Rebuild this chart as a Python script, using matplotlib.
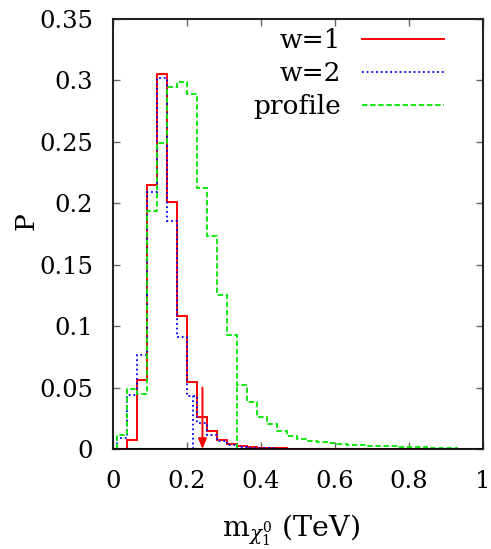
import numpy as np
import matplotlib
matplotlib.use("Agg")
import matplotlib.pyplot as plt

# ---------------- data ----------------
bin_edges = [0.0127, 0.0397, 0.0667, 0.0937, 0.1207, 0.1477, 0.1747, 0.2017,
             0.2287, 0.2557, 0.2827, 0.3097, 0.3367, 0.3637, 0.3907, 0.4177,
             0.4447, 0.4717, 0.4987, 0.5257, 0.5527, 0.5797, 0.6067, 0.6337,
             0.6607, 0.6877, 0.7147, 0.7417, 0.7687, 0.7957, 0.8227, 0.8497,
             0.8767, 0.9037, 0.9307, 0.9577, 0.9847]

p_w1 = [0.0, 0.0073, 0.056, 0.2148, 0.305, 0.2013, 0.1082, 0.0546,
        0.0262, 0.0145, 0.0070, 0.0040, 0.0025, 0.0016, 0.0010, 0.0007,
        0.0005, 0.0004, 0.0003, 0.0003, 0.0002, 0.0002, 0.0002, 0.0001,
        0.0001, 0.0001, 0.0001, 0.0001, 0.0001, 0.0001, 0.0001, 0.0001,
        0.0001, 0.0001, 0.0001, 0.0001]

p_w2 = [0.009, 0.0438, 0.0763, 0.2094, 0.3017, 0.1859, 0.0912, 0.043,
        0.021, 0.0114, 0.0067, 0.0035, 0.0020, 0.0012, 0.0008, 0.0005,
        0.0004, 0.0003, 0.0002, 0.0002, 0.0001, 0.0001, 0.0001, 0.0001,
        0.0001, 0.0001, 0.0001, 0.0001, 0.0001, 0.0001, 0.0001, 0.0001,
        0.0001, 0.0001, 0.0001, 0.0001]

p_profile = [0.0114, 0.049, 0.045, 0.194, 0.2494, 0.2949, 0.2987, 0.2892,
             0.2124, 0.1731, 0.125, 0.0925, 0.0525, 0.0384, 0.0262, 0.0203,
             0.0149, 0.0108, 0.0078, 0.0063, 0.0054, 0.0046, 0.0038, 0.0032,
             0.0029, 0.0027, 0.0024, 0.0022, 0.0019, 0.0016, 0.0014, 0.0012,
             0.0009, 0.0006, 0.0004, 0.0002]

# narrow drops to zero seen in the curves
w2_dip = (0.2168, 0.043)
profile_dip = (0.3367, 0.0525)

# limit arrow for w=1
arrow_x = 0.2424
arrow_top = 0.05

x_ticks = [0, 0.2, 0.4, 0.6, 0.8, 1]
x_ticklabels = ["0", "0.2", "0.4", "0.6", "0.8", "1"]
y_ticks = [0, 0.05, 0.1, 0.15, 0.2, 0.25, 0.3, 0.35]
y_ticklabels = ["0", "0.05", "0.1", "0.15", "0.2", "0.25", "0.3", "0.35"]

labels = ["w=1", "w=2", "profile"]

# ---------------- style ----------------
plt.rcParams["font.family"] = ["DejaVu Serif"]
plt.rcParams["mathtext.fontset"] = "dejavuserif"

c_red = "#ff0000"
c_blue = "#0000ff"
c_green = "#00e600"

fig = plt.figure(figsize=(4.91, 5.49), dpi=100)
ax = fig.add_axes([0.2297, 0.1821, 0.7534, 0.7833])

ax.stairs(p_w1, bin_edges, baseline=0, color=c_red, lw=1.4,
          linestyle="-", zorder=3)
ax.stairs(p_w2, bin_edges, baseline=0, color=c_blue, lw=1.3,
          linestyle=(0, (1, 1.6)), zorder=4)
ax.vlines(w2_dip[0], 0, w2_dip[1], color=c_blue, lw=1.3,
          linestyle=(0, (1, 1.6)), zorder=4)
ax.stairs(p_profile, bin_edges, baseline=0, color=c_green, lw=1.3,
          linestyle=(0, (3, 1.5)), zorder=5)
ax.vlines(profile_dip[0], 0, profile_dip[1], color=c_green, lw=1.3,
          linestyle=(0, (3, 1.5)), zorder=5)

ax.annotate("", xy=(arrow_x, 0), xytext=(arrow_x, arrow_top),
            arrowprops=dict(arrowstyle="-|>,head_length=0.6,head_width=0.25",
                            color=c_red, lw=1.4, shrinkA=0, shrinkB=0),
            zorder=6)

ax.axhline(0, color="black", lw=1.2, zorder=7)

ax.set_xlim(0, 1)
ax.set_ylim(0, 0.35)
ax.set_xticks(x_ticks)
ax.set_xticklabels(x_ticklabels)
ax.set_yticks(y_ticks)
ax.set_yticklabels(y_ticklabels)

ax.tick_params(axis="both", direction="in", length=5, width=1,
               color="#666666", top=True, right=True, labelsize=17.5)
ax.tick_params(axis="y", pad=14)
ax.tick_params(axis="x", pad=15)

for s in ax.spines.values():
    s.set_linewidth(1.5)
    s.set_color("#222222")

ax.set_xlabel(r"$\mathrm{m}_{\chi_1^0}$ (TeV)", fontsize=20.5)
ax.xaxis.set_label_coords(0.482, -0.148)
ax.set_ylabel("P", fontsize=19, rotation=90)
ax.yaxis.set_label_coords(-0.20, 0.53)

ax.legend(handles=[
    plt.Line2D([], [], color=c_red, lw=1.4, linestyle="-"),
    plt.Line2D([], [], color=c_blue, lw=1.3, linestyle=(0, (1, 1.6))),
    plt.Line2D([], [], color=c_green, lw=1.3, linestyle=(0, (3, 1.5)))],
    labels=labels, loc="upper right", bbox_to_anchor=(0.895, 0.978),
    frameon=False, markerfirst=False, fontsize=19, handlelength=3.1,
    handletextpad=0.8, labelspacing=0.3, borderpad=0, borderaxespad=0)

fig.savefig("out.png", dpi=100)
